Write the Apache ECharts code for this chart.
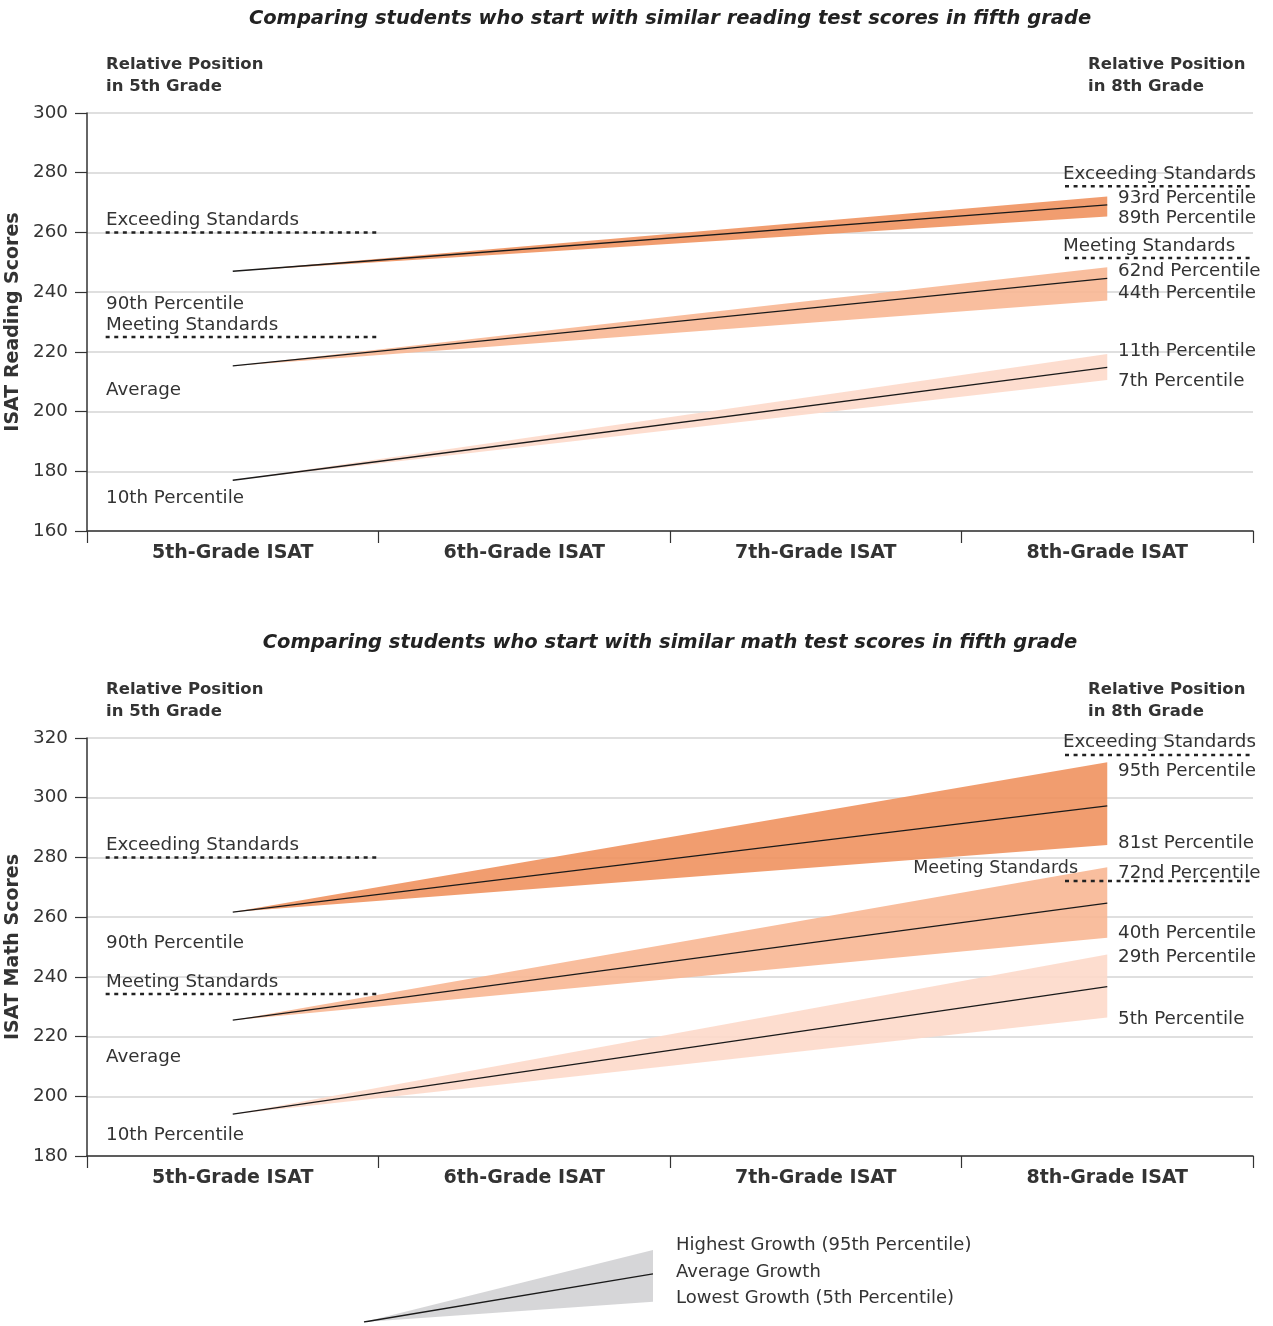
<!DOCTYPE html>
<html>
<head>
<meta charset="utf-8">
<script src="https://cdn.jsdelivr.net/npm/echarts@6/dist/echarts.min.js"></script>
<style>
html,body{margin:0;padding:0;background:#fff;}
#chart{width:1273px;height:1326px;}
</style>
</head>
<body>
<div id="chart"></div>
<script>
// ---------------- DATA ----------------
const categories = ['5th-Grade ISAT', '6th-Grade ISAT', '7th-Grade ISAT', '8th-Grade ISAT'];

// Reading: three starting groups (90th pct, average, 10th pct)
const readingStart = [247, 215.3, 177];
const readingHigh8 = [272, 248.3, 219.3];
const readingAvg8  = [269.2, 244.6, 214.8];
const readingLow8  = [265.3, 237.2, 210.6];
const readingStdLeft  = [260, 225];     // Exceeding, Meeting (5th grade)
const readingStdRight = [275.5, 251.4]; // Exceeding, Meeting (8th grade)
const readingTicks = [160, 180, 200, 220, 240, 260, 280, 300];

// Math
const mathStart = [261.7, 225.5, 194];
const mathHigh8 = [311.9, 276.7, 247.5];
const mathAvg8  = [297.3, 264.7, 236.7];
const mathLow8  = [284.2, 253.1, 226.4];
const mathStdLeft  = [280, 234.3];
const mathStdRight = [314.3, 272.1];
const mathTicks = [180, 200, 220, 240, 260, 280, 300, 320];

// Legend wedge (schematic)
const legendStart = [0];
const legendHigh = [1];
const legendAvg = [0.667];
const legendLow = [0.28];

// ---------------- STYLE / LAYOUT ----------------
const FONT = 'DejaVu Sans';
const TXT = '#333333';
const bandColors = ['#F0925F', '#F8B794', '#FDD9CA'];
const G = [
  {left: 87, top: 113, width: 1166, height: 418},
  {left: 87, top: 738, width: 1166, height: 418},
  {left: 364, top: 1250, width: 289, height: 72}
];

function bandRenderer(xStart, xEnd, colorFn) {
  return function (params, api) {
    const s = api.value(0), hi = api.value(1), lo = api.value(2);
    const p0 = api.coord([xStart, s]);
    const ph = api.coord([xEnd, hi]);
    const pl = api.coord([xEnd, lo]);
    return {
      type: 'polygon',
      shape: {points: [p0, ph, pl]},
      style: {fill: colorFn(params.dataIndex), opacity: 0.9}
    };
  };
}

function makeSubject(gi, xCat, xVal, yIdx, start, hi, avg, lo, stdL, stdR) {
  const out = [];
  out.push({
    type: 'custom',
    xAxisIndex: xCat, yAxisIndex: yIdx,
    renderItem: bandRenderer(0, categories.length - 1, i => bandColors[i]),
    data: start.map((s, i) => [s, hi[i], lo[i]]),
    z: 2, silent: true
  });
  start.forEach((s, i) => {
    out.push({
      type: 'line', xAxisIndex: xCat, yAxisIndex: yIdx,
      data: [[categories[0], s], [categories[categories.length - 1], avg[i]]],
      symbol: 'none', lineStyle: {color: '#1a1a1a', width: 1.3}, z: 4, silent: true
    });
  });
  const dash = {color: '#222', width: 2.5, type: [4, 4.6]};
  stdL.forEach(v => out.push({
    type: 'line', xAxisIndex: xVal, yAxisIndex: yIdx,
    data: [[0.064, v], [1.0, v]], symbol: 'none', lineStyle: dash, z: 5, silent: true
  }));
  stdR.forEach(v => out.push({
    type: 'line', xAxisIndex: xVal, yAxisIndex: yIdx,
    data: [[3.355, v], [4.0, v]], symbol: 'none', lineStyle: dash, z: 5, silent: true
  }));
  return out;
}

function catAxis(gi) {
  return {
    type: 'category', gridIndex: gi, data: categories, boundaryGap: true,
    axisLine: {show: true, lineStyle: {color: '#333', width: 1.5}},
    axisTick: {show: true, length: 12, lineStyle: {color: '#333', width: 1.2}},
    axisLabel: {color: TXT, fontFamily: FONT, fontWeight: 'bold', fontSize: 19, margin: 13},
    splitLine: {show: false}
  };
}
function hiddenVal(gi) {
  return {type: 'value', gridIndex: gi, min: 0, max: 4, show: false};
}
function yAxis(gi, ticks, name) {
  return {
    type: 'value', gridIndex: gi, min: ticks[0], max: ticks[ticks.length - 1],
    interval: ticks[1] - ticks[0],
    name: name, nameLocation: 'middle', nameGap: 53, nameRotate: 90,
    nameTextStyle: {color: TXT, fontFamily: FONT, fontWeight: 'bold', fontSize: 19},
    axisLine: {show: true, lineStyle: {color: '#333', width: 1.5}},
    axisTick: {show: true, length: 12, lineStyle: {color: '#333', width: 1.2}},
    axisLabel: {color: TXT, fontFamily: FONT, fontSize: 18.3, margin: 19},
    splitLine: {show: true, lineStyle: {color: '#d5d5d5', width: 1.5}}
  };
}

function txt(x, y, text, opt) {
  opt = opt || {};
  return {
    type: 'text', x: x, y: y, z: 100, silent: true,
    style: {
      text: text, fill: TXT, font: (opt.weight || 'normal') + ' ' + (opt.size || 18.3) + 'px "' + FONT + '"',
      textAlign: opt.align || 'left', textVerticalAlign: 'middle'
    }
  };
}

const graphics = [
  {type: 'text', x: 670, y: 19, z: 100, style: {text: 'Comparing students who start with similar reading test scores in fifth grade', fill: '#222', font: 'italic bold 19.5px "' + FONT + '"', textAlign: 'center', textVerticalAlign: 'middle'}},
  {type: 'text', x: 670, y: 643, z: 100, style: {text: 'Comparing students who start with similar math test scores in fifth grade', fill: '#222', font: 'italic bold 19.5px "' + FONT + '"', textAlign: 'center', textVerticalAlign: 'middle'}},
  txt(106, 65, 'Relative Position', {weight: 'bold', size: 16.5}),
  txt(106, 87, 'in 5th Grade', {weight: 'bold', size: 16.5}),
  txt(1088, 65, 'Relative Position', {weight: 'bold', size: 16.5}),
  txt(1088, 87, 'in 8th Grade', {weight: 'bold', size: 16.5}),
  txt(106, 690, 'Relative Position', {weight: 'bold', size: 16.5}),
  txt(106, 712, 'in 5th Grade', {weight: 'bold', size: 16.5}),
  txt(1088, 690, 'Relative Position', {weight: 'bold', size: 16.5}),
  txt(1088, 712, 'in 8th Grade', {weight: 'bold', size: 16.5}),
  // reading left
  txt(106, 220, 'Exceeding Standards'),
  txt(106, 304, '90th Percentile'),
  txt(106, 325, 'Meeting Standards'),
  txt(106, 390, 'Average'),
  txt(106, 498, '10th Percentile'),
  // reading right
  txt(1063, 174, 'Exceeding Standards'),
  txt(1118, 198, '93rd Percentile'),
  txt(1118, 218, '89th Percentile'),
  txt(1063, 246, 'Meeting Standards'),
  txt(1118, 271, '62nd Percentile'),
  txt(1118, 293, '44th Percentile'),
  txt(1118, 351, '11th Percentile'),
  txt(1118, 381, '7th Percentile'),
  // math left
  txt(106, 845, 'Exceeding Standards'),
  txt(106, 943, '90th Percentile'),
  txt(106, 982, 'Meeting Standards'),
  txt(106, 1057, 'Average'),
  txt(106, 1135, '10th Percentile'),
  // math right
  txt(1063, 742, 'Exceeding Standards'),
  txt(1118, 771, '95th Percentile'),
  txt(1118, 843, '81st Percentile'),
  txt(1078, 868, 'Meeting Standards', {align: 'right', size: 17.5}),
  txt(1118, 873, '72nd Percentile'),
  txt(1118, 933, '40th Percentile'),
  txt(1118, 957, '29th Percentile'),
  txt(1118, 1019, '5th Percentile'),
  // legend
  txt(676, 1245, 'Highest Growth (95th Percentile)', {size: 18}),
  txt(676, 1272, 'Average Growth', {size: 18}),
  txt(676, 1298, 'Lowest Growth (5th Percentile)', {size: 18})
];

const series = []
  .concat(makeSubject(0, 0, 1, 0, readingStart, readingHigh8, readingAvg8, readingLow8, readingStdLeft, readingStdRight))
  .concat(makeSubject(1, 2, 3, 1, mathStart, mathHigh8, mathAvg8, mathLow8, mathStdLeft, mathStdRight));

// legend wedge
series.push({
  type: 'custom', xAxisIndex: 4, yAxisIndex: 2,
  renderItem: bandRenderer(0, 1, () => '#D1D2D4'),
  data: legendStart.map((s, i) => [s, legendHigh[i], legendLow[i]]),
  z: 2, silent: true
});
series.push({
  type: 'line', xAxisIndex: 4, yAxisIndex: 2,
  data: [[0, legendStart[0]], [1, legendAvg[0]]],
  symbol: 'none', lineStyle: {color: '#1a1a1a', width: 1.3}, z: 4, silent: true
});

const option = {
  animation: false,
  backgroundColor: '#fff',
  grid: G.map(g => Object.assign({containLabel: false, outerBoundsMode: 'none'}, g)),
  xAxis: [catAxis(0), hiddenVal(0), catAxis(1), hiddenVal(1),
          {type: 'value', gridIndex: 2, min: 0, max: 1, show: false}],
  yAxis: [yAxis(0, readingTicks, 'ISAT Reading Scores'), yAxis(1, mathTicks, 'ISAT Math Scores'),
          {type: 'value', gridIndex: 2, min: 0, max: 1, show: false}],
  series: series,
  graphic: graphics
};

const chart = echarts.init(document.getElementById('chart'), null, {renderer: 'canvas'});
chart.setOption(option);
</script>
</body>
</html>
